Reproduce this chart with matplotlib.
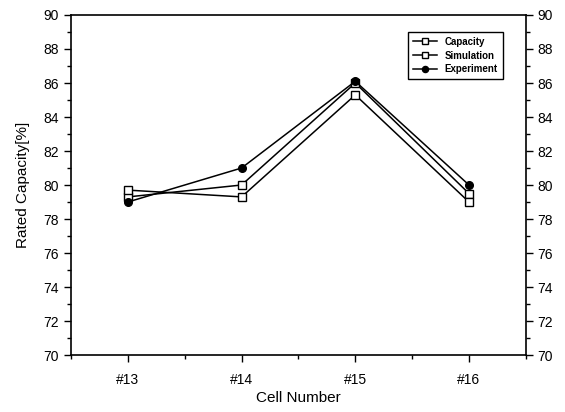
import numpy as np
import matplotlib.pyplot as plt
from matplotlib.ticker import MultipleLocator

plt.rcParams['font.family'] = ['Liberation Sans', 'DejaVu Sans']

# data
cells = ['#13', '#14', '#15', '#16']
capacity = [79.3, 80.0, 86.0, 79.5]
simulation = [79.7, 79.3, 85.3, 79.0]
experiment = [79.0, 81.0, 86.1, 80.0]

x = np.arange(len(cells))

fig = plt.figure(figsize=(5.65, 4.12), dpi=100)
ax = fig.add_axes([0.1257, 0.1383, 0.805, 0.8253])

ax.plot(x, capacity, color='black', lw=1.1, marker='s', ms=5.5,
        mfc='white', mec='black', mew=1, label='Capacity')
ax.plot(x, simulation, color='black', lw=1.1, marker='s', ms=5.5,
        mfc='white', mec='black', mew=1, label='Simulation')
ax.plot(x, experiment, color='black', lw=1.1, marker='o', ms=5.5,
        mfc='black', mec='black', label='Experiment')

ax.set_xlim(-0.5, 3.5)
ax.set_ylim(70, 90)
ax.set_xticks(x)
ax.set_xticklabels(cells)
ax.xaxis.set_minor_locator(MultipleLocator(0.5))
ax.yaxis.set_major_locator(MultipleLocator(2))
ax.yaxis.set_minor_locator(MultipleLocator(1))
ax.tick_params(which='both', direction='out', labelsize=10, width=1,
               right=True, labelright=True, top=False)
ax.tick_params(axis='x', which='major', pad=8)
ax.tick_params(which='major', length=5)
ax.tick_params(which='minor', length=3)
for s in ax.spines.values():
    s.set_linewidth(1.2)

ax.set_xlabel('Cell Number', fontsize=11, labelpad=3)
ax.set_ylabel('Rated Capacity[%]', fontsize=11, labelpad=10)

leg = ax.legend(loc='upper right', bbox_to_anchor=(0.96, 0.965), fontsize=7,
                fancybox=False, edgecolor='black', framealpha=1,
                handlelength=2.5, borderpad=0.5, labelspacing=0.4, markerscale=0.8)
leg.get_frame().set_linewidth(1)
for t in leg.get_texts():
    t.set_fontweight('bold')

fig.savefig('out.png', dpi=100)
